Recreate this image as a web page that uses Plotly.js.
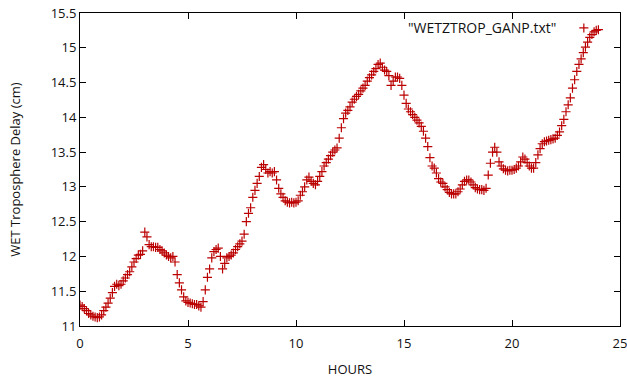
<!DOCTYPE html>
<html>
<head>
<meta charset="utf-8">
<script src="https://cdn.plot.ly/plotly-3.0.1.min.js"></script>
<style>html,body{margin:0;padding:0;background:#fff;}#chart{width:627px;height:380px;}</style>
</head>
<body>
<div id="chart"></div>
<script>
const seriesName = '"WETZTROP_GANP.txt"';
const hours = [
  0.0,0.1,0.2,0.3,0.4,0.5,0.6,0.7,0.8,0.9,1.0,1.1,1.2,1.3,1.4,1.5,1.6,1.7,1.8,1.9,
  2.0,2.1,2.2,2.3,2.4,2.5,2.6,2.7,2.8,2.9,3.0,3.1,3.2,3.3,3.4,3.5,3.6,3.7,3.8,3.9,
  4.0,4.1,4.2,4.3,4.4,4.5,4.6,4.7,4.8,4.9,5.0,5.1,5.2,5.3,5.4,5.5,5.6,5.7,5.8,5.9,
  6.0,6.1,6.2,6.3,6.4,6.5,6.6,6.7,6.8,6.9,7.0,7.1,7.2,7.3,7.4,7.5,7.6,7.7,7.8,7.9,
  8.0,8.1,8.2,8.3,8.4,8.5,8.6,8.7,8.8,8.9,9.0,9.1,9.2,9.3,9.4,9.5,9.6,9.7,9.8,9.9,
  10.0,10.1,10.2,10.3,10.4,10.5,10.6,10.7,10.8,10.9,11.0,11.1,11.2,11.3,11.4,11.5,11.6,11.7,11.8,11.9,
  12.0,12.1,12.2,12.3,12.4,12.5,12.6,12.7,12.8,12.9,13.0,13.1,13.2,13.3,13.4,13.5,13.6,13.7,13.8,13.9,
  14.0,14.1,14.2,14.3,14.4,14.5,14.6,14.7,14.8,14.9,15.0,15.1,15.2,15.3,15.4,15.5,15.6,15.7,15.8,15.9,
  16.0,16.1,16.2,16.3,16.4,16.5,16.6,16.7,16.8,16.9,17.0,17.1,17.2,17.3,17.4,17.5,17.6,17.7,17.8,17.9,
  18.0,18.1,18.2,18.3,18.4,18.5,18.6,18.7,18.8,18.9,19.0,19.1,19.2,19.3,19.4,19.5,19.6,19.7,19.8,19.9,
  20.0,20.1,20.2,20.3,20.4,20.5,20.6,20.7,20.8,20.9,21.0,21.1,21.2,21.3,21.4,21.5,21.6,21.7,21.8,21.9,
  22.0,22.1,22.2,22.3,22.4,22.5,22.6,22.7,22.8,22.9,23.0,23.1,23.2,23.3,23.4,23.5,23.6,23.7,23.8,23.9,
  24.0];
const wetDelay = [
  11.30,11.28,11.25,11.22,11.18,11.16,11.14,11.13,11.12,11.13,11.16,11.22,11.27,11.33,11.40,11.48,11.57,11.60,11.58,11.60,
  11.65,11.69,11.74,11.78,11.85,11.92,11.97,12.02,12.03,12.08,12.35,12.28,12.17,12.14,12.14,12.13,12.13,12.10,12.08,12.05,
  12.02,12.00,11.98,12.00,11.92,11.74,11.62,11.52,11.42,11.36,11.34,11.33,11.32,11.31,11.31,11.29,11.27,11.35,11.52,11.70,
  11.82,11.98,12.07,12.10,12.12,12.00,11.82,11.90,11.98,12.00,12.02,12.05,12.10,12.14,12.18,12.22,12.32,12.50,12.62,12.70,
  12.85,12.95,13.05,13.15,13.28,13.32,13.25,13.20,13.22,13.20,13.22,13.10,12.98,12.90,12.85,12.80,12.78,12.77,12.78,12.77,
  12.78,12.80,12.88,12.93,13.00,13.10,13.14,13.08,13.05,13.03,13.08,13.15,13.22,13.30,13.35,13.40,13.45,13.50,13.53,13.56,
  13.70,13.85,13.98,14.06,14.10,14.15,14.22,14.26,14.30,14.33,14.38,14.42,14.46,14.52,14.57,14.61,14.66,14.70,14.76,14.78,
  14.72,14.68,14.66,14.60,14.46,14.52,14.58,14.58,14.56,14.46,14.32,14.20,14.12,14.08,14.04,14.00,13.96,13.92,13.87,13.80,
  13.70,13.58,13.42,13.30,13.27,13.20,13.12,13.07,13.05,13.00,12.96,12.92,12.90,12.90,12.90,12.93,12.97,13.03,13.08,13.10,
  13.10,13.07,13.03,12.99,12.97,12.96,12.96,12.95,12.98,13.17,13.34,13.50,13.57,13.50,13.36,13.30,13.26,13.24,13.23,13.24,
  13.24,13.25,13.27,13.30,13.36,13.43,13.40,13.35,13.30,13.27,13.27,13.35,13.46,13.55,13.62,13.65,13.66,13.67,13.68,13.69,
  13.70,13.74,13.79,13.88,13.97,14.08,14.18,14.28,14.42,14.54,14.66,14.76,14.84,14.93,15.01,15.08,15.15,15.19,15.23,15.25,
  15.26];
const xTicks = [0,5,10,15,20,25];
const yTicks = [11,11.5,12,12.5,13,13.5,14,14.5,15,15.5];

const markerColor = '#bb0000';
const trace = {
  x: hours, y: wetDelay, type: 'scatter', mode: 'markers', name: ' ',
  marker: {symbol: 'cross-thin-open', size: 6.5, color: markerColor, line: {color: markerColor, width: 1.2}},
  showlegend: true, hoverinfo: 'x+y'
};
const fam = '"Open Sans", "DejaVu Sans", sans-serif';
const font = {family: fam, size: 13, color: '#111'};
const layout = {
  width: 627, height: 380,
  margin: {l: 80, r: 7, t: 13, b: 54},
  paper_bgcolor: '#fff', plot_bgcolor: '#fff',
  font: font,
  xaxis: {range: [0, 25], tickvals: xTicks, ticktext: xTicks.map(String), ticks: 'inside', ticklen: 6,
    showline: true, mirror: 'ticks', linecolor: '#000', linewidth: 1, tickcolor: '#000', showgrid: false, zeroline: false,
    ticklabelstandoff: 5, automargin: false, ticklabeloverflow: 'allow',
    title: {text: 'HOURS', font: font, standoff: 14}, tickfont: font},
  yaxis: {range: [11, 15.5], tickvals: yTicks, ticktext: yTicks.map(String), ticks: 'inside', ticklen: 6,
    showline: true, mirror: 'ticks', linecolor: '#000', linewidth: 1, tickcolor: '#000', showgrid: false, zeroline: false,
    automargin: false, ticklabeloverflow: 'allow',
    title: {text: 'WET Troposphere Delay (cm)', font: font, standoff: 27}, tickfont: font},
  showlegend: true,
  legend: {x: 0.896, y: 1.0, xanchor: 'left', yanchor: 'top', bgcolor: 'rgba(0,0,0,0)', font: font, itemwidth: 30},
  annotations: [{xref: 'paper', yref: 'paper', x: 0.886, y: 0.955, xanchor: 'right', yanchor: 'middle',
    text: seriesName, showarrow: false, font: {family: fam, size: 14, color: '#111'}}]
};
Plotly.newPlot('chart', [trace], layout, {displayModeBar: false, staticPlot: true});
</script>
</body>
</html>
